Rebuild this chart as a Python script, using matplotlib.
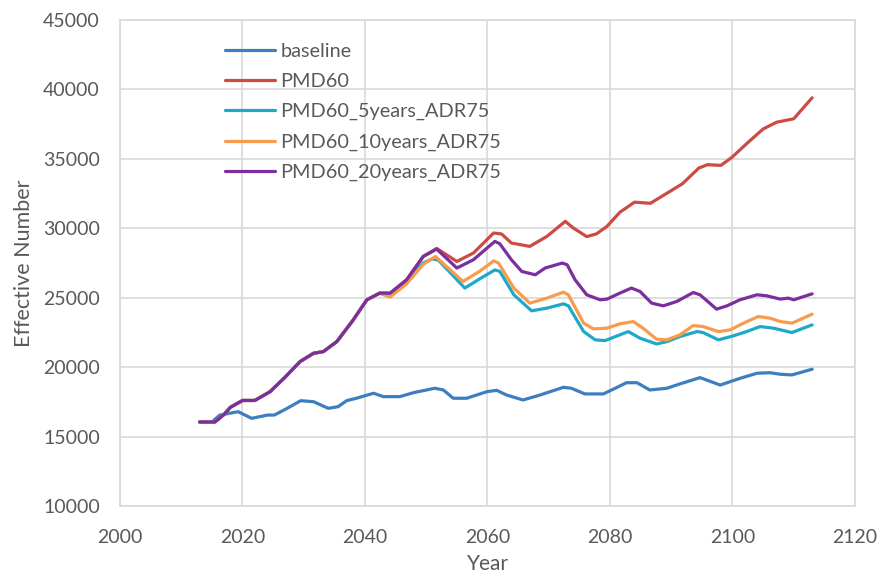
import matplotlib
matplotlib.use("Agg")
import matplotlib.pyplot as plt

plt.rcParams['font.family'] = ['Lato', 'DejaVu Sans']

common_years = [2013, 2015.5, 2017, 2018, 2020, 2022, 2024.5, 2027, 2029.4, 2031.6, 2033.2,
                2035.4, 2038, 2040.3, 2042.4]
common_vals = [16050, 16050, 16600, 17100, 17600, 17600, 18230, 19300, 20400, 21000, 21120,
               21840, 23350, 24850, 25330]

base_years = [2013, 2015, 2016.3, 2019.3, 2021.5, 2024.1, 2025.2, 2027.3, 2029.5, 2031.6, 2034,
              2035.6, 2037, 2038.6, 2041.4, 2043, 2045.7, 2047.9, 2051.4, 2052.8, 2054.4, 2056.6,
              2059.9, 2061.5, 2063.1, 2065.8, 2068.6, 2072.4, 2073.7, 2075.9, 2078.9, 2080.5,
              2082.7, 2084.4, 2086.5, 2089.3, 2091.4, 2094.7, 2098, 2101.2, 2104, 2106.1, 2107.8,
              2109.7, 2113]
base_vals = [16050, 16050, 16550, 16790, 16313, 16550, 16550, 17035, 17585, 17510, 17035,
             17150, 17585, 17760, 18120, 17875, 17875, 18160, 18480, 18355, 17760, 17760,
             18233, 18330, 17995, 17635, 17995, 18550, 18480, 18070, 18070, 18405,
             18880, 18880, 18355, 18480, 18790, 19245, 18710, 19190, 19560, 19600, 19490,
             19440, 19850]

pmd_years = [2044.1, 2046.8, 2049.5, 2051.7, 2055, 2057.7, 2061, 2062.3, 2063.9, 2066.9, 2069.7,
             2072.7, 2074, 2076.2, 2077.8, 2079.5, 2081.6, 2084, 2086.6, 2089.2, 2091.8, 2094.5,
             2095.9, 2098.1, 2099.8, 2102.8, 2105, 2107.2, 2110, 2113]
pmd_vals = [25330, 26290, 27970, 28550, 27612, 28217, 29660, 29590, 28940, 28695, 29415,
            30500, 30022, 29400, 29600, 30137, 31150, 31880, 31800, 32500, 33200, 34335,
            34580, 34530, 35070, 36290, 37150, 37640, 37886, 39400]

y5_years = [2044.1, 2046.8, 2049.5, 2051, 2052, 2056.3, 2058.7, 2061.2, 2062, 2064.3, 2067.2,
            2069.7, 2072.4, 2073.2, 2075.7, 2077.6, 2079.2, 2081.6, 2083, 2084.9, 2087.6,
            2089.3, 2091.4, 2094.2, 2095.2, 2097.7, 2100.1, 2102.3, 2104.5, 2106.7, 2109.7, 2113]
y5_vals = [25100, 26200, 27500, 27800, 27700, 25694, 26350, 27000, 26900, 25210, 24055,
           24250, 24560, 24415, 22560, 21963, 21912, 22324, 22560, 22085, 21670,
           21840, 22200, 22560, 22490, 21963, 22250, 22560, 22922, 22806, 22490, 23045]

y10_years = [2044.1, 2046.8, 2049.5, 2051.5, 2056, 2058.7, 2061, 2061.8, 2064.3, 2066.9,
             2069.7, 2072.4, 2073.2, 2075.7, 2077.3, 2079.5, 2081.6, 2083.8, 2085.4, 2087.6,
             2089.3, 2091.4, 2093.6, 2095.2, 2097.7, 2099.6, 2101.8, 2104.2, 2106.1, 2107.8,
             2109.7, 2113]
y10_vals = [25050, 26000, 27400, 27970, 26170, 26900, 27650, 27500, 25694, 24610,
            24970, 25400, 25210, 23167, 22755, 22806, 23117, 23283, 22806, 22013,
            21963, 22324, 22995, 22922, 22560, 22684, 23167, 23644, 23528, 23283,
            23167, 23818]

y20_years = [2044.1, 2046.8, 2049.5, 2051.7, 2055, 2057.7, 2061.2, 2062, 2063.9, 2065.6,
             2067.8, 2069.4, 2072.2, 2073, 2074.3, 2076.2, 2078.4, 2079.5, 2081.6, 2083.5,
             2084.9, 2086.8, 2088.7, 2090.9, 2093.6, 2094.7, 2097.4, 2099.1, 2101.2, 2104,
             2105.6, 2107.8, 2109.1, 2110, 2113]
y20_vals = [25330, 26290, 27970, 28500, 27136, 27735, 29055, 28890, 27735, 26890,
            26650, 27136, 27496, 27375, 26290, 25210, 24848, 24898, 25330, 25694,
            25450, 24610, 24415, 24730, 25375, 25210, 24177, 24415, 24848, 25210,
            25137, 24898, 24970, 24850, 25280]

labels = ["baseline", "PMD60", "PMD60_5years_ADR75", "PMD60_10years_ADR75", "PMD60_20years_ADR75"]
colors = ["#3d7ebf", "#cc4b44", "#1fa9c9", "#f99b4a", "#7b2e9e"]

x_ticks = [2000, 2020, 2040, 2060, 2080, 2100, 2120]
y_ticks = [10000, 15000, 20000, 25000, 30000, 35000, 40000, 45000]

fig = plt.figure(figsize=(8.8, 5.77), dpi=100)
ax = fig.add_axes([120/880, 1-506/577, 735/880, 486/577])

series = [
    (base_years, base_vals),
    (common_years + pmd_years, common_vals + pmd_vals),
    (common_years + y5_years, common_vals + y5_vals),
    (common_years + y10_years, common_vals + y10_vals),
    (common_years + y20_years, common_vals + y20_vals),
]
handles = []
for (xs, ys), lab, col in zip(series, labels, colors):
    h, = ax.plot(xs, ys, color=col, lw=2.3, label=lab, solid_joinstyle='round',
                 solid_capstyle='round', zorder=3)
    handles.append(h)

ax.set_xlim(2000, 2120)
ax.set_ylim(10000, 45000)
ax.set_xticks(x_ticks)
ax.set_yticks(y_ticks)
ax.grid(True, color="#d9d9d9", lw=1.2)
ax.set_axisbelow(True)
for s in ax.spines.values():
    s.set_color("#d9d9d9")
    s.set_linewidth(1.2)
ax.tick_params(length=0, labelsize=14, labelcolor="#595959")
ax.tick_params(axis='x', pad=16.5)
ax.tick_params(axis='y', pad=14.5)
ax.set_xlabel("Year", fontsize=15, color="#595959", labelpad=5.5)
ax.set_ylabel("Effective Number", fontsize=15.5, color="#595959", labelpad=6.5)

leg = ax.legend(handles=handles, loc="upper left", bbox_to_anchor=((217-120)/735, 1 - (35-20)/486),
                frameon=False, fontsize=14.3, handlelength=2.5, handletextpad=0.3,
                labelspacing=0.66, labelcolor="#595959", borderaxespad=0)

fig.savefig("out.png", dpi=100)
